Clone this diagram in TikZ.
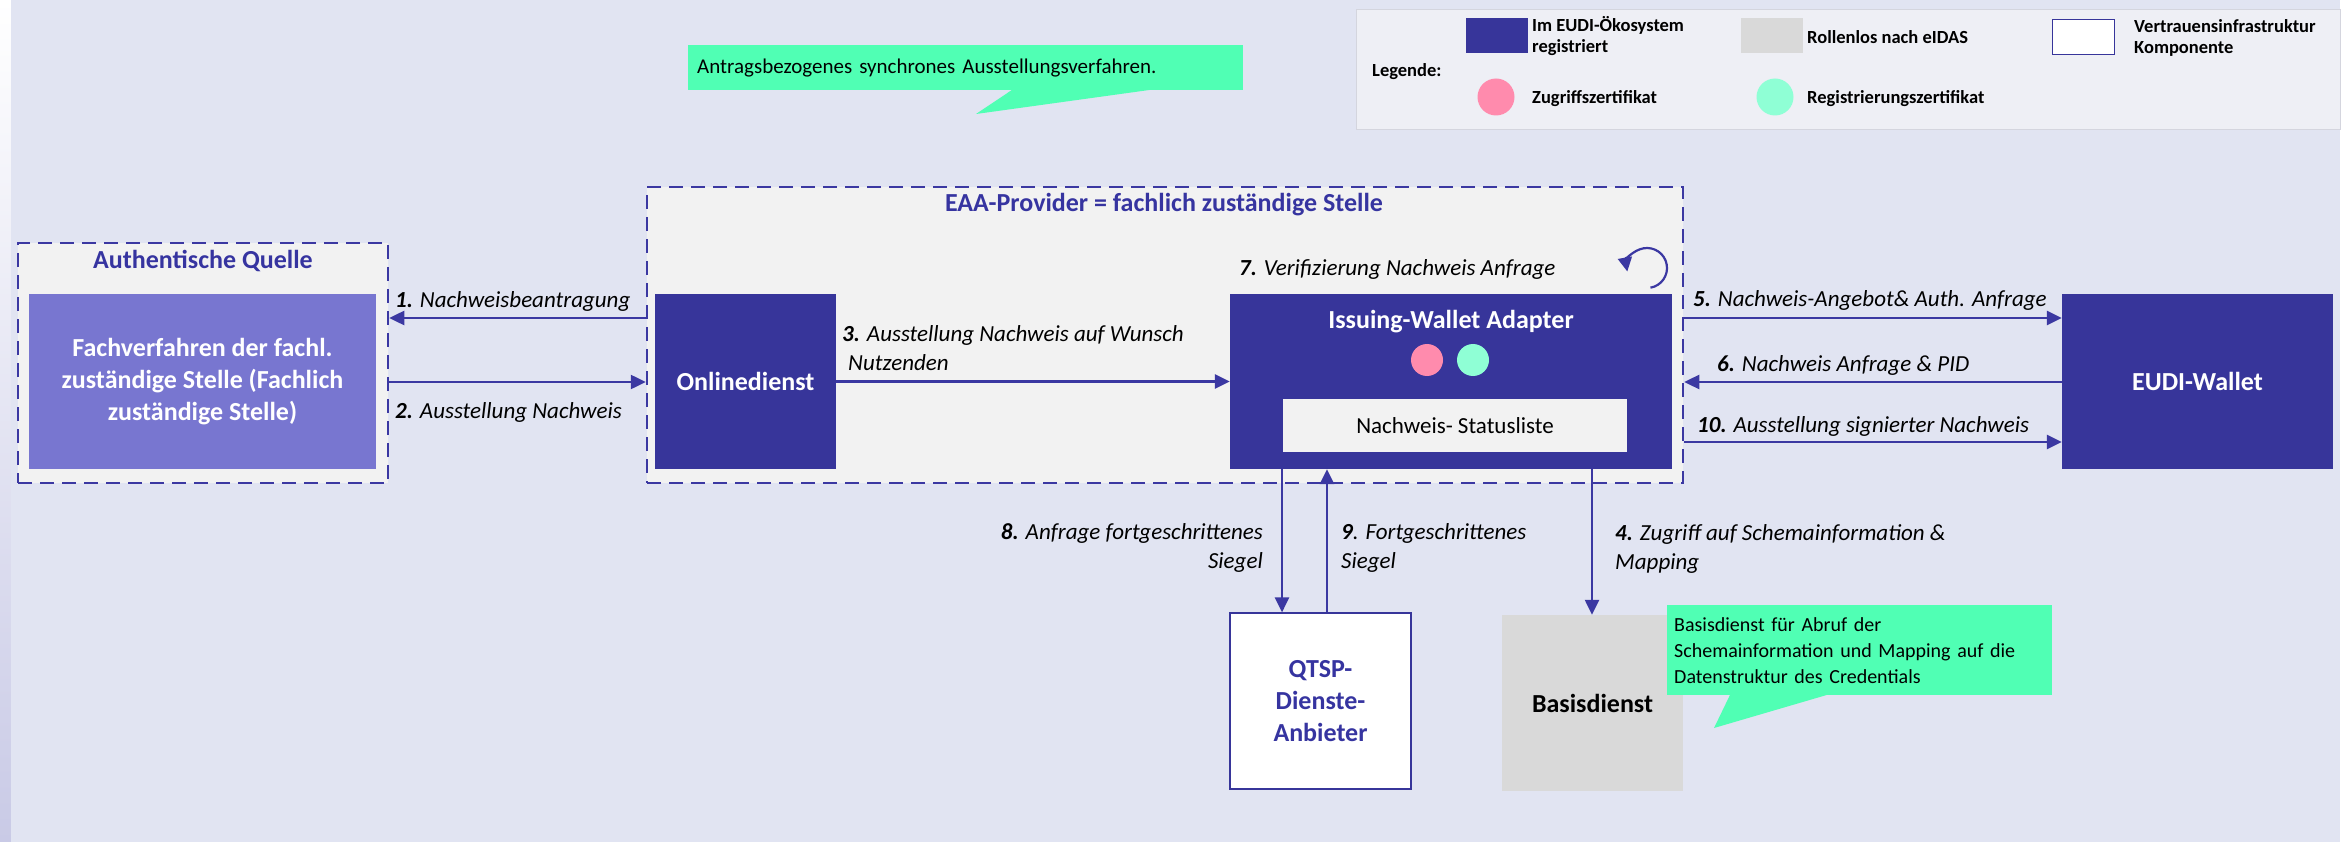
\documentclass[tikz,border=0pt]{standalone}
\usepackage{fontspec}
\setmainfont{Carlito}
\usetikzlibrary{arrows.meta,calc}
\definecolor{bg}{HTML}{E1E4F2}
\definecolor{dblue}{HTML}{37359A}
\definecolor{lineblue}{HTML}{3B38A2}
\definecolor{lblue}{HTML}{7876D0}
\definecolor{cont}{HTML}{F2F2F2}
\definecolor{mint}{HTML}{50FFB4}
\definecolor{pinkc}{HTML}{FF8BAD}
\definecolor{mintdot}{HTML}{8FFFD5}
\definecolor{greyc}{HTML}{D9D9D9}
\definecolor{legbg}{HTML}{EEEFF5}
\definecolor{legline}{HTML}{D4D5DE}
\definecolor{titleblue}{HTML}{3634A0}
\definecolor{sidepurple}{HTML}{C9CAE6}
\begin{document}
\begin{tikzpicture}[x=1pt,y=-1pt,
  container/.style={draw=lineblue,line width=2.5pt,dash pattern=on 14pt off 8pt,fill=cont,inner sep=0pt},
  darkbox/.style={fill=dblue,text=white,inner sep=0pt,align=center,font=\fontsize{26}{32}\selectfont\bfseries},
  conn/.style={draw=lineblue,line width=2.5pt,-{Triangle[length=15pt,width=14pt]}},
  lbl/.style={inner sep=0pt,font=\fontsize{23}{29}\selectfont\itshape,text=black},
  ctitle/.style={inner sep=0pt,font=\fontsize{26}{32}\selectfont\bfseries,text=titleblue},
  legtext/.style={inner sep=0pt,anchor=west,align=left,font=\fontsize{18.5}{21}\selectfont\bfseries,text=black},
  calloutbox/.style={fill=mint,inner ysep=0pt,anchor=north west,align=left,text=black}
]
\useasboundingbox (0,0) rectangle (2351,842);
\fill[white] (0,0) rectangle (2351,842);
\shade[top color=white,bottom color=sidepurple] (0,0) rectangle (11,842);
\fill[bg] (11,0) rectangle (2340,842);

% Legend
\node[fill=legbg,draw=legline,line width=1pt,anchor=north west,minimum width=984pt,minimum height=120pt,inner sep=0pt] (leg) at (1356,9) {};
\node[fill=dblue,anchor=north west,minimum width=62pt,minimum height=35pt,inner sep=0pt] (legdark) at (1466,18) {};
\node[legtext] (legdarkt) at (1532,36) {Im EUDI-Ökosystem\\registriert};
\node[fill=greyc,anchor=north west,minimum width=62pt,minimum height=35pt,inner sep=0pt] (leggrey) at (1741,18) {};
\node[legtext] (leggreyt) at (1807,37) {Rollenlos nach eIDAS};
\node[fill=white,draw=dblue,line width=1pt,anchor=north west,minimum width=62pt,minimum height=35pt,inner sep=0pt] (legwhite) at (2052,19) {};
\node[legtext] (legwhitet) at (2134,38) {Vertrauensinfrastruktur\\Komponente};
\node[legtext] (legtitle) at (1372,72) {Legende:};
\node[circle,fill=pinkc,minimum size=37pt,inner sep=0pt] (legpink) at (1496,97) {};
\node[legtext] (legpinkt) at (1532,99) {Zugriffszertifikat};
\node[circle,fill=mintdot,minimum size=37pt,inner sep=0pt] (legmint) at (1775,97) {};
\node[legtext] (legmintt) at (1807,99) {Registrierungszertifikat};

% Callout 1
\node[calloutbox,minimum height=45pt,text width=537pt,inner xsep=9pt,font=\fontsize{21}{26}\selectfont] (call1) at (688,45) {Antragsbezogenes synchrones Ausstellungsverfahren.};
\coordinate (call1tip) at (976,114);
\fill[mint] ($(call1.south west)+(324,-0.5)$) -- (call1tip) -- ($(call1.south west)+(462,-0.5)$) -- cycle;

% Containers
\node[container,minimum width=370pt,minimum height=240pt] (aq) at (203,363) {};
\node[ctitle] (aqt) at (203,261) {Authentische Quelle};
\node[container,minimum width=1036pt,minimum height=296pt] (eaa) at (1165,335) {};
\node[ctitle] (eaat) at (1164,205) {EAA-Provider = fachlich zuständige Stelle};

% Boxes
\node[darkbox,fill=lblue,minimum width=347pt,minimum height=175pt] (fach) at (202.5,381.5) {Fachverfahren der fachl.\\zuständige Stelle (Fachlich\\zuständige Stelle)};
\node[darkbox,minimum width=181pt,minimum height=175pt] (online) at (745.5,381.5) {Onlinedienst};
\node[darkbox,minimum width=442pt,minimum height=175pt] (iwa) at (1451,381.5) {};
\node[inner sep=0pt,text=white,font=\fontsize{26}{32}\selectfont\bfseries] (iwat) at (1451,322) {Issuing-Wallet Adapter};
\node[circle,fill=pinkc,minimum size=32pt,inner sep=0pt] (iwapink) at (1427,360) {};
\node[circle,fill=mintdot,minimum size=32pt,inner sep=0pt] (iwamint) at (1473,360) {};
\node[fill=cont,minimum width=344pt,minimum height=53pt,inner sep=0pt,font=\fontsize{23}{28}\selectfont] (status) at (1455,425.5) {Nachweis- Statusliste};
\node[darkbox,minimum width=271pt,minimum height=175pt] (eudi) at (2197.5,381.5) {EUDI-Wallet};
\node[fill=white,draw=dblue,line width=1.2pt,minimum width=181pt,minimum height=176pt,inner sep=0pt,align=center,text=titleblue,font=\fontsize{26}{32}\selectfont\bfseries] (qtsp) at (1320.5,701) {QTSP-\\Dienste-\\Anbieter};
\node[fill=greyc,minimum width=181pt,minimum height=176pt,inner sep=0pt,text=black,font=\fontsize{26}{32}\selectfont\bfseries] (basis) at (1592.5,703) {Basisdienst};

% Callout 2
\node[calloutbox,minimum height=90pt,text width=371pt,inner xsep=7pt,font=\fontsize{20}{26}\selectfont] (call2) at (1667,605) {Basisdienst für Abruf der\\Schemainformation und Mapping auf die\\Datenstruktur des Credentials};
\coordinate (call2tip) at (1714,728);
\fill[mint] ($(call2.south west)+(63,-0.5)$) -- (call2tip) -- ($(call2.south west)+(160,-0.5)$) -- cycle;

% Connectors
\draw[conn] (eaa.west |- 0,318) -- (aq.east |- 0,318);
\node[lbl,anchor=west] (l1) at (395,301) {\textbf{1.} Nachweisbeantragung};
\draw[conn] (aq.east |- 0,382) -- (eaa.west |- 0,382);
\node[lbl,anchor=west] (l2) at (395,412) {\textbf{2.} Ausstellung Nachweis};
\draw[conn] (online.east) -- (iwa.west);
\node[lbl,anchor=west,align=left] (l3) at (842,348.5) {\textbf{3.} Ausstellung Nachweis auf Wunsch\\\hspace*{6pt}Nutzenden};
\node[lbl,anchor=west] (l7) at (1239,269) {\textbf{7.} Verifizierung Nachweis Anfrage};
\coordinate (loopc) at (1647,268);
\draw[draw=lineblue,line width=2.2pt,-{Triangle[length=14pt,width=14pt]}] ($(loopc)+(80:20)$) arc (80:-190:20);
\draw[conn] (eaa.east |- 0,318) -- (eudi.west |- 0,318);
\node[lbl,anchor=west] (l5) at (1693,300) {\textbf{5.} Nachweis-Angebot\& Auth. Anfrage};
\draw[conn] (eudi.west |- 0,382) -- (eaa.east |- 0,382);
\node[lbl,anchor=west] (l6) at (1717,365) {\textbf{6.} Nachweis Anfrage \& PID};
\draw[conn] (eaa.east |- 0,442) -- (eudi.west |- 0,442);
\node[lbl,anchor=west] (l10) at (1697,426) {\textbf{10.} Ausstellung signierter Nachweis};
\draw[conn] (iwa.south -| 1282,0) -- (qtsp.north -| 1282,0);
\node[lbl,anchor=east,align=right] (l8) at (1263,548) {\textbf{8.} Anfrage fortgeschrittenes\\Siegel};
\draw[conn] (qtsp.north -| 1327,0) -- (iwa.south -| 1327,0);
\node[lbl,anchor=west,align=left] (l9) at (1341,548) {\textbf{9}. Fortgeschrittenes\\Siegel};
\draw[conn] (iwa.south -| 1592,0) -- (basis.north -| 1592,0);
\node[lbl,anchor=west,align=left] (l4) at (1615,548.5) {\textbf{4.} Zugriff auf Schemainformation \&\\Mapping};
\end{tikzpicture}
\end{document}
